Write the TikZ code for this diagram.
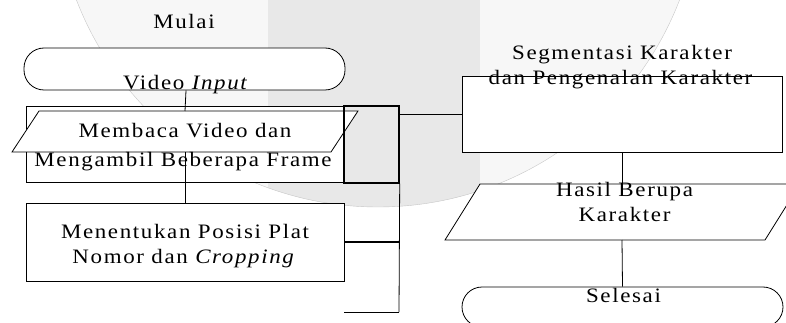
\documentclass[tikz,border=0pt]{standalone}
\usepackage{fontspec}
\setmainfont{Liberation Serif}[LetterSpace=8, FakeStretch=1.12]
\begin{document}
\begin{tikzpicture}[x=1pt,y=-1pt,
  box/.style={draw, fill=white, line width=0.8pt, inner sep=0pt},
  term/.style={draw, fill=white, line width=0.8pt, rounded corners=20pt, inner sep=0pt},
  lbl/.style={anchor=base, inner sep=0pt, font=\fontsize{20.5}{24}\selectfont},
  conn/.style={line width=0.8pt},
  thick box/.style={draw, line width=1.4pt, inner sep=0pt}]
\useasboundingbox (0,0) rectangle (786,323);
% watermark
\begin{scope}
\clip (0,0) rectangle (786,323);
\fill[black!3] (378,-116) circle (323);
\clip (378,-116) circle (323);
\fill[black!9] (268,-10) rectangle (480,330);
\end{scope}
\draw[black!22, line width=0.4pt] (378,-116) circle (323);
% start terminator
\node[lbl] (mulai) at (184,29) {Mulai};
\node[term, minimum width=321, minimum height=42] (start) at (184.5,69) {};
\node[lbl] (vin) at (186,90) {Video \textit{Input}};
% process box 1 with parallelogram
\node[box, minimum width=318, minimum height=76] (r1) at (185,144) {};
\coordinate (p1n) at (185,111);
\coordinate (p1s) at (185,152);
\draw[line width=0.8pt, fill=white] (39,111) -- (358,111) -- (331,152) -- (12,152) -- cycle;
\node[lbl] (t1a) at (185,138) {Membaca Video dan};
\node[lbl] (t1b) at (183,167) {Mengambil Beberapa Frame};
% process box 2
\node[box, minimum width=318, minimum height=78] (r2) at (185,242) {};
\node[lbl] (t2a) at (185,238) {Menentukan Posisi Plat};
\node[lbl] (t2b) at (184,263) {Nomor dan \textit{Cropping}};
% thick box and bracket lines
\node[thick box, minimum width=55, minimum height=77] (tb) at (371.5,144.5) {};
\coordinate (b1) at (399,242);
\coordinate (b2) at (399,312);
\coordinate (b1l) at (344,242);
\coordinate (b2l) at (344,312);
\draw[conn] (tb.south east) -- (b2);
\draw[line width=1.4pt] (b1l) -- (b1);
\draw[conn] (b2l) -- (b2);
% segmentation box
\node[box, minimum width=320, minimum height=76] (seg) at (622,114) {};
\node[lbl] (t3a) at (622,60) {Segmentasi Karakter};
\node[lbl] (t3b) at (620.5,85) {dan Pengenalan Karakter};
\coordinate (c1) at (399,114);
\draw[conn] (c1) -- (c1 -| seg.west);
% output parallelogram
\coordinate (p2n) at (622,184);
\coordinate (p2s) at (622,240);
\draw[line width=0.8pt, fill=white] (480,184) -- (800,184) -- (765,240) -- (445,240) -- cycle;
\node[lbl] (t4a) at (624.5,196) {Hasil Berupa};
\node[lbl] (t4b) at (624.5,221) {Karakter};
% end terminator
\node[term, minimum width=321, minimum height=40] (end) at (622.5,307) {};
\node[lbl] (sel) at (623.5,302) {Selesai};
% connectors
\draw[conn] (start.south -| vin) -- (p1n);
\draw[conn] (p1s) -- (p1s |- r2.north);
\draw[conn] (seg.south) -- (p2n);
\draw[conn] (p2s) -- (end.north);
\end{tikzpicture}
\end{document}
